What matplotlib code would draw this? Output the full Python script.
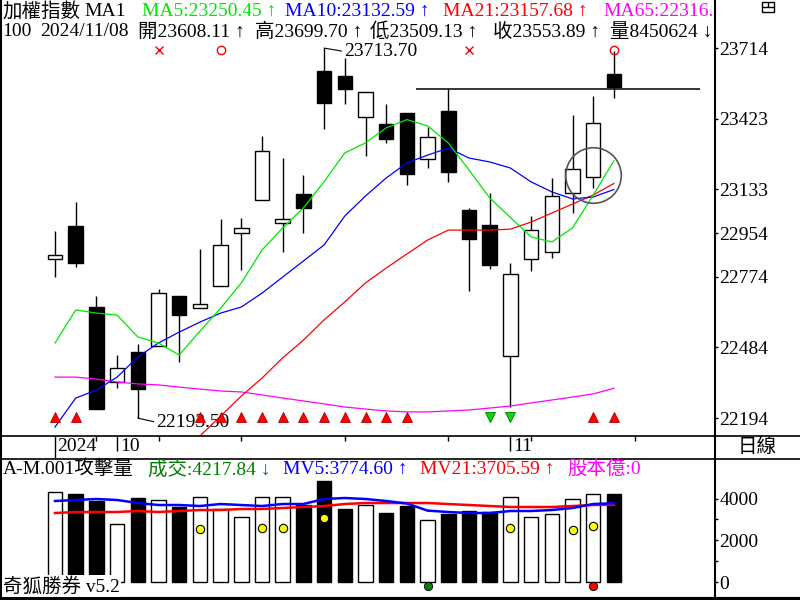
import matplotlib
matplotlib.use('Agg')
import matplotlib.pyplot as plt
import numpy as np
from matplotlib.patches import Rectangle

plt.rcParams['font.family'] = ['Liberation Serif', 'Noto Sans CJK TC']

# ---- data (28 daily candles, last = 2024/11/08) ----
opens = [22847, 22983, 22650, 22342, 22465, 22490, 22695, 22646, 22736, 22954,
         23090, 22995, 23114, 23619, 23599, 23430, 23402, 23447, 23258, 23455,
         23048, 22987, 22449, 22847, 22876, 23118, 23184, 23608.11]
highs = [22962, 23081, 22695, 22453, 22498, 22724, 22695, 22888, 23011, 23016,
         23352, 23262, 23192, 23713.70, 23673, 23533, 23484, 23447, 23389, 23546,
         23057, 23118, 22831, 23024, 23180, 23439, 23517, 23699.70]
lows = [22773, 22814, 22231, 22317, 22193.50, 22490, 22424, 22646, 22736, 22802,
        23090, 22876, 22954, 23381, 23484, 23270, 23324, 23151, 23221, 23163,
        22716, 22806, 22239, 22798, 22851, 23036, 23139, 23509.13]
closes = [22864, 22831, 22231, 22399, 22313, 22708, 22617, 22662, 22905, 22975,
          23291, 23012, 23057, 23488, 23546, 23533, 23340, 23196, 23348, 23205,
          22929, 22823, 22786, 22966, 23106, 23217, 23406, 23553.89]

ma5 = [22502, 22638, 22625, 22617, 22527, 22502, 22453, 22551, 22645, 22749,
       22884, 22975, 23057, 23165, 23283, 23324, 23386, 23420, 23394, 23324,
       23213, 23098, 23018, 22938, 22917, 22975, 23110, 23250.45]
ma10 = [22157, 22276, 22309, 22362, 22445, 22502, 22547, 22588, 22625, 22650,
        22707, 22773, 22839, 22905, 23024, 23106, 23180, 23242, 23274, 23303,
        23262, 23246, 23221, 23164, 23123, 23094, 23102, 23132.59]
ma21 = [np.nan] * 7 + [22120, 22202, 22284, 22358, 22441, 22514, 22597, 22671,
                       22749, 22810, 22868, 22925, 22966, 22966, 22966, 22970,
                       22999, 23036, 23073, 23110, 23157.68]
ma65 = [22362, 22362, 22354, 22342, 22334, 22330, 22321, 22313, 22305, 22301,
        22289, 22276, 22264, 22252, 22239, 22231, 22223, 22219, 22219, 22223,
        22227, 22235, 22243, 22256, 22268, 22280, 22293, 22316]

volume = [4311, 4215, 3880, 2778, 4024, 3928, 3593, 4072, 3497, 3114,
          4072, 4072, 3688, 4838, 3497, 3688, 3305, 3640, 2970, 3257,
          3401, 3353, 4072, 3114, 3257, 3976, 4215, 4217.84]
mv5 = [3880, 3928, 3976, 3928, 3784, 3688, 3688, 3640, 3736, 3688,
       3640, 3736, 3736, 3976, 4024, 3976, 3880, 3760, 3420, 3353,
       3305, 3305, 3401, 3401, 3449, 3545, 3736, 3774.60]
mv21 = [3305, 3353, 3353, 3353, 3401, 3353, 3401, 3449, 3449, 3497,
        3497, 3545, 3593, 3640, 3736, 3784, 3784, 3784, 3784, 3736,
        3688, 3640, 3593, 3593, 3593, 3640, 3688, 3705.59]
total_volume = 8450624

price_ticks = [23714, 23423, 23133, 22954, 22774, 22484, 22194]
vol_ticks = [0, 2000, 4000]

buy_days = [0, 1, 7, 8, 9, 10, 11, 12, 13, 14, 15, 16, 17, 26, 27]
sell_days = [21, 22]
cross_days = [5, 20]
ring_days = [8, 27]
yellow_days = [7, 10, 11, 13, 22, 25, 26]
yellow_vals = [2539, 2587, 2587, 3066, 2587, 2491, 2682]
green_dot_days = [18]
red_dot_days = [26]
week_ticks = [2, 5, 9, 14, 19, 23, 28]
month_ticks = [3, 22]
month_labels = ['10', '11']
resist_day = 19
circle_day, circle_price = 26, 23192

GREEN = '#00E600'
n = len(closes)
x = np.arange(n)
up = [c >= o for o, c in zip(opens, closes)]

fig = plt.figure(figsize=(8, 6), dpi=100)
X0, X1 = -55 / 20.7, 660 / 20.7

# ---- price panel ----
ax = fig.add_axes([0, 165 / 600, 715 / 800, 435 / 600])
ax.set_xlim(X0, X1)
ax.set_ylim(22124.2, 23911.2)
ax.patch.set_alpha(0)
for s in ax.spines.values():
    s.set_visible(False)
ax.set_xticks([])
ax.yaxis.tick_right()
ax.set_yticks(price_ticks)
ax.set_yticklabels([str(t) for t in price_ticks])
ax.tick_params(axis='y', length=2.5, width=1, pad=0.5, labelsize=14)

ax.vlines(x, lows, highs, color='black', lw=1.0, zorder=2)
bot = [min(o, c) for o, c in zip(opens, closes)]
hgt = [max(abs(c - o), 4) for o, c in zip(opens, closes)]
ax.bar(x, hgt, bottom=bot, width=0.7,
       color=['white' if u else 'black' for u in up],
       edgecolor='black', lw=1.0, zorder=3)

ax.plot(x, ma65, color='#FF00FF', lw=0.9, zorder=4)
ax.plot(x, ma21, color='#FF0000', lw=0.9, zorder=4)
ax.plot(x, ma10, color='#0000FF', lw=0.9, zorder=4)
ax.plot(x, ma5, color=GREEN, lw=0.9, zorder=4)

top_row, sig_row = 23706, 22200
ax.plot(cross_days, [top_row] * len(cross_days), 'x', color='red', ms=6, mew=1)
ax.plot(ring_days, [top_row] * len(ring_days), 'o', mfc='none', mec='red', ms=6, mew=1)
ax.plot(buy_days, [sig_row] * len(buy_days), '^', color='#FF0000', mec='#B00000', ms=7, mew=0.6, zorder=5)
ax.plot(sell_days, [sig_row] * len(sell_days), 'v', color='#00E000', mec='#007000', ms=7, mew=0.6, zorder=5)

ax.hlines(highs[resist_day], 17.45, 31.15, color='black', lw=1.1, zorder=5)
ax.plot([circle_day], [circle_price], 'o', mfc='none', mec='#555555', ms=40, mew=1.2, zorder=6)

hi_i = int(np.argmax(highs))
lo_i = int(np.argmin(lows))
ax.annotate(f'{highs[hi_i]:.2f}', xy=(hi_i, highs[hi_i]), xytext=(14.5, -2.5),
            textcoords='offset points', fontsize=14, va='center', ha='left',
            arrowprops=dict(arrowstyle='-', lw=0.8, shrinkA=0, shrinkB=0, relpos=(0, 0.5)))
ax.annotate(f'{lows[lo_i]:.2f}', xy=(lo_i, lows[lo_i]), xytext=(13.5, -3),
            textcoords='offset points', fontsize=14, va='center', ha='left',
            arrowprops=dict(arrowstyle='-', lw=0.8, shrinkA=0, shrinkB=0, relpos=(0, 0.5)))

# ---- date row ----
axd = fig.add_axes([0, 142 / 600, 715 / 800, 23 / 600])
axd.set_xlim(X0, X1)
axd.set_ylim(1, 0)
axd.axis('off')
axd.vlines([0], 0, 1, color='black', lw=1)
axd.vlines(month_ticks, 0, 0.7, color='black', lw=1)
axd.vlines(week_ticks, 0, 0.25, color='black', lw=1)
axd.text(0.1, 0.5, '2024', fontsize=14, va='center', ha='left')
for d, lab in zip(month_ticks, month_labels):
    axd.text(d + 0.13, 0.5, lab, fontsize=14, va='center', ha='left')

# ---- volume panel ----
axv = fig.add_axes([0, 2 / 600, 715 / 800, 140 / 600])
axv.set_xlim(X0, X1)
axv.set_ylim(-766, 5940)
axv.patch.set_alpha(0)
for s in axv.spines.values():
    s.set_visible(False)
axv.set_xticks([])
axv.yaxis.tick_right()
axv.set_yticks(vol_ticks)
axv.set_yticklabels([str(t) for t in vol_ticks])
axv.set_yticks([1000, 3000], minor=True)
axv.tick_params(axis='y', which='both', length=2.5, width=1, pad=0.5, labelsize=14)
axv.bar(x, volume, width=0.7, color=['white' if u else 'black' for u in up],
        edgecolor='black', lw=1.0, zorder=2)
axv.plot(x, mv21, color='#FF0000', lw=1.8, zorder=3)
axv.plot(x, mv5, color='#0000FF', lw=1.8, zorder=3)
axv.plot(yellow_days, yellow_vals, 'o', color='#FFFF00', mec='black', ms=6, mew=0.8, zorder=4)
axv.plot(green_dot_days, [-190], 'o', color='#008000', mec='black', ms=6, mew=0.6, zorder=4)
axv.plot(red_dot_days, [-190], 'o', color='#FF0000', mec='black', ms=6, mew=0.6, zorder=4)

# ---- frame, headers, labels (pixel overlay) ----
ov = fig.add_axes([0, 0, 1, 1], zorder=10)
ov.set_xlim(0, 800)
ov.set_ylim(600, 0)
ov.axis('off')
ov.patch.set_alpha(0)
ov.vlines(715, 0, 600, color='black', lw=1.5)
ov.vlines(0.8, 0, 600, color='black', lw=1.5)
ov.hlines([435.5, 458.5], 0, 800, color='black', lw=1.2)
ov.hlines(598.5, 0, 800, color='black', lw=3)
ov.add_patch(Rectangle((762, 2), 12, 10, fill=False, ec='black', lw=1))
ov.hlines(7, 762, 774, color='black', lw=1)
ov.vlines(768, 2, 7, color='black', lw=1)

def seg(xp, yp, s, c='black', fs=14, **kw):
    ov.text(xp, yp, s, color=c, fontsize=fs, ha='left', va='center', **kw)

seg(2, 11, '加權指數')
seg(84, 11, 'MA1')
seg(142, 11, f'MA5:{ma5[-1]:.2f} ↑', GREEN)
seg(285, 11, f'MA10:{ma10[-1]:.2f} ↑', '#0000FF')
seg(443, 11, f'MA21:{ma21[-1]:.2f} ↑', '#FF0000')
seg(603, 11, f'MA65:{ma65[-1]:.0f}.', '#FF00FF')

seg(2, 32, '100')
seg(40, 32, '2024/11/08')
seg(138, 32, f'開{opens[-1]:.2f} ↑')
seg(255, 32, f'高{highs[-1]:.2f} ↑')
seg(370, 32, f'低{lows[-1]:.2f} ↑')
seg(493, 32, f'收{closes[-1]:.2f} ↑')
seg(610, 32, f'量{total_volume} ↓')

seg(3, 469, 'A-M.001攻擊量')
seg(148, 469, f'成交:{volume[-1]:.2f} ↓', '#008000')
seg(283, 469, f'MV5:{mv5[-1]:.2f} ↑', '#0000FF')
seg(420, 469, f'MV21:{mv21[-1]:.2f} ↑', '#FF0000')
seg(567, 469, '股本億:0', '#FF00FF')

seg(3, 586, '奇狐勝券 v5.2',
    bbox=dict(facecolor='white', edgecolor='none', pad=1.0))
ov.text(757, 447, '日線', fontsize=14, ha='center', va='center')

fig.savefig('out.png', dpi=100)
